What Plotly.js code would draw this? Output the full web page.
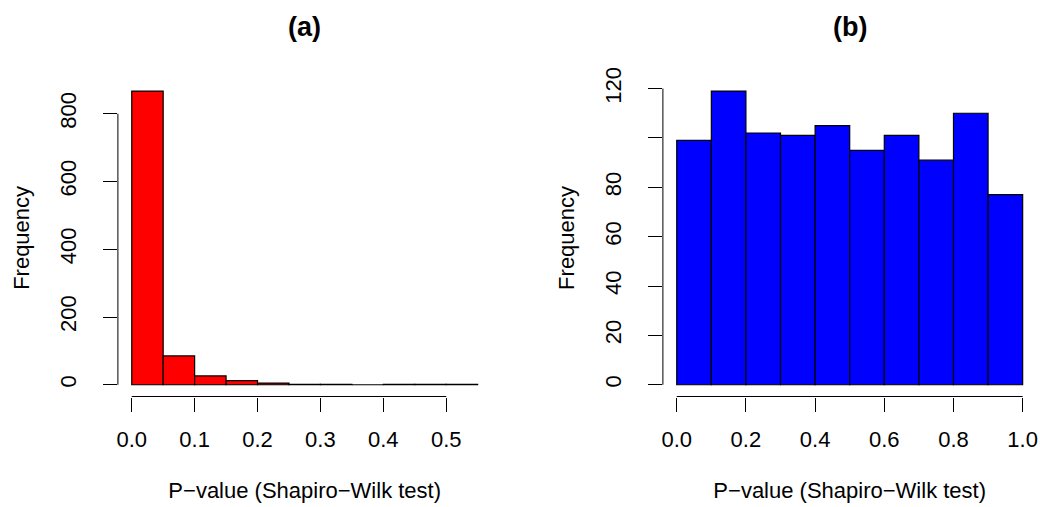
<!DOCTYPE html>
<html>
<head>
<meta charset="utf-8">
<script src="https://cdn.plot.ly/plotly-3.0.1.min.js"></script>
<style>html,body{margin:0;padding:0;background:#fff;}#chart{width:1040px;height:507px;}</style>
</head>
<body>
<div id="chart"></div>
<script>
// Panel (a): P-values, bin width 0.05
const binStartsA = [0.00, 0.05, 0.10, 0.15, 0.20, 0.25, 0.30, 0.35, 0.40, 0.45, 0.50];
const countsA    = [867, 85, 26, 12, 5, 1, 1, 0, 1, 1, 1];
const binWidthA  = 0.05;
const xTicksA    = [0.0, 0.1, 0.2, 0.3, 0.4, 0.5];
const xLabelsA   = ["0.0", "0.1", "0.2", "0.3", "0.4", "0.5"];
const yTicksA    = [0, 200, 400, 600, 800];
const yLabelsA   = ["0", "200", "400", "600", "800"];

// Panel (b): P-values, bin width 0.1
const binStartsB = [0.0, 0.1, 0.2, 0.3, 0.4, 0.5, 0.6, 0.7, 0.8, 0.9];
const countsB    = [99, 119, 102, 101, 105, 95, 101, 91, 110, 77];
const binWidthB  = 0.1;
const xTicksB    = [0.0, 0.2, 0.4, 0.6, 0.8, 1.0];
const xLabelsB   = ["0.0", "0.2", "0.4", "0.6", "0.8", "1.0"];
const yTicksB    = [0, 20, 40, 60, 80, 100, 120];
const yLabelsB   = ["0", "20", "40", "60", "80", "", "120"];

const titles = ["(a)", "(b)"];
const xTitle = "P\u2212value (Shapiro\u2212Wilk test)";
const yTitle = "Frequency";

const FONT = "Liberation Sans, Arial, Helvetica, sans-serif";
const FS = 22;

function rng(lo, hi) { const d = hi - lo; return [lo - 0.04 * d, hi + 0.04 * d]; }

const xMaxA = binStartsA[binStartsA.length - 1] + binWidthA;
const xMaxB = binStartsB[binStartsB.length - 1] + binWidthB;

const traces = [
  {
    type: "bar", x: binStartsA, y: countsA,
    width: binStartsA.map(() => binWidthA), offset: 0,
    marker: {color: "#FF0000", line: {color: "#000", width: 1.2}},
    xaxis: "x", yaxis: "y", hoverinfo: "x+y", showlegend: false
  },
  {
    type: "bar", x: binStartsB, y: countsB,
    width: binStartsB.map(() => binWidthB), offset: 0,
    marker: {color: "#0000FF", line: {color: "#000", width: 1.2}},
    xaxis: "x2", yaxis: "y2", hoverinfo: "x+y", showlegend: false
  }
];

const yDom = [(507 - 396.5) / 507, (507 - 79.3) / 507];

function xAxis(dom, r, ticks, labels, anchor) {
  return {
    domain: dom, range: r, anchor: anchor,
    tickmode: "array", tickvals: ticks, ticktext: labels,
    ticks: "outside", ticklen: 14, tickwidth: 1, tickcolor: "#000",
    showline: false, showgrid: false, zeroline: false,
    tickfont: {family: FONT, size: FS, color: "#000"},
    ticklabelstandoff: 9,
    title: {text: xTitle, font: {family: FONT, size: FS, color: "#000"}, standoff: 31},
    fixedrange: true
  };
}
function yAxis(r, ticks, labels, anchor) {
  return {
    domain: yDom, range: r, anchor: anchor,
    tickmode: "array", tickvals: ticks, ticktext: labels,
    ticks: "outside", ticklen: 14, tickwidth: 1, tickcolor: "#000",
    tickangle: -90,
    showline: false, showgrid: false, zeroline: false,
    tickfont: {family: FONT, size: FS, color: "#000"},
    ticklabelstandoff: 18,
    title: {text: yTitle, font: {family: FONT, size: FS, color: "#000"}, standoff: 20},
    fixedrange: true
  };
}

const maxA = Math.max(...countsA);
const maxB = Math.max(...countsB);

const layout = {
  width: 1040, height: 507,
  margin: {l: 0, r: 0, t: 0, b: 0},
  paper_bgcolor: "#fff", plot_bgcolor: "#fff",
  bargap: 0,
  font: {family: FONT, size: FS, color: "#000"},
  xaxis: xAxis([117.9 / 1040, 491.5 / 1040], rng(0, xMaxA), xTicksA, xLabelsA, "y"),
  yaxis: yAxis(rng(0, maxA), yTicksA, yLabelsA, "x"),
  xaxis2: xAxis([662.9 / 1040, 1036.5 / 1040], rng(0, xMaxB), xTicksB, xLabelsB, "y2"),
  yaxis2: yAxis(rng(0, maxB), yTicksB, yLabelsB, "x2"),
  shapes: [
    {type: "line", xref: "x", yref: "y domain", x0: xTicksA[0], x1: xTicksA[xTicksA.length - 1], y0: 0, y1: 0, line: {color: "#000", width: 1}},
    {type: "line", xref: "x domain", yref: "y", x0: 0, x1: 0, y0: yTicksA[0], y1: yTicksA[yTicksA.length - 1], line: {color: "#000", width: 1}},
    {type: "line", xref: "x2", yref: "y2 domain", x0: xTicksB[0], x1: xTicksB[xTicksB.length - 1], y0: 0, y1: 0, line: {color: "#000", width: 1}},
    {type: "line", xref: "x2 domain", yref: "y2", x0: 0, x1: 0, y0: yTicksB[0], y1: yTicksB[yTicksB.length - 1], line: {color: "#000", width: 1}}
  ],
  annotations: [
    {text: "<b>" + titles[0] + "</b>", xref: "x domain", yref: "paper", x: 0.5, y: (507 - 27) / 507, xanchor: "center", yanchor: "middle", showarrow: false, font: {family: FONT, size: 27, color: "#000"}},
    {text: "<b>" + titles[1] + "</b>", xref: "x2 domain", yref: "paper", x: 0.5, y: (507 - 27) / 507, xanchor: "center", yanchor: "middle", showarrow: false, font: {family: FONT, size: 27, color: "#000"}}
  ]
};

Plotly.newPlot("chart", traces, layout, {staticPlot: true, displayModeBar: false});
</script>
</body>
</html>
